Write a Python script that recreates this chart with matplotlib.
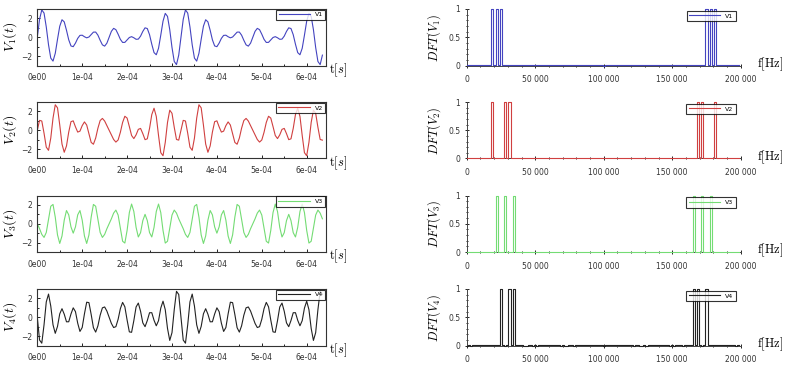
import numpy as np
import matplotlib.pyplot as plt
from matplotlib.ticker import MultipleLocator, FixedLocator, FixedFormatter

# ==================================================
# data
# ==================================================

fs = 200000      # sampling frequency [Hz] (DFT axis goes to 200 000)
n_samples = 128  # time axis ends near 6.35e-04 s

names = ["V1", "V2", "V3", "V4"]
colors = ["#4444c0", "#d04040", "#74dc74", "#222222"]

# tone frequencies seen in the DFT panels [Hz] and their signs
v1_freqs = [18750, 21875, 25000]
v1_signs = [1, 1, 1]
v2_freqs = [18750, 28125, 31250]
v2_signs = [-1, 1, 1]
v3_freqs = [21875, 28125, 34375]
v3_signs = [-1, -1, 1]
v4_freqs = [25000, 31250, 34375]
v4_signs = [-1, -1, -1]

all_freqs = [v1_freqs, v2_freqs, v3_freqs, v4_freqs]
all_signs = [v1_signs, v2_signs, v3_signs, v4_signs]

t_ticks = [0, 1e-4, 2e-4, 3e-4, 4e-4, 5e-4, 6e-4]
t_labels = ["0e00", "1e-04", "2e-04", "3e-04", "4e-04", "5e-04", "6e-04"]
f_ticks = [0, 50000, 100000, 150000, 200000]
f_labels = ["0", "50 000", "100 000", "150 000", "200 000"]

# ==================================================
# figure
# ==================================================

plt.rcParams["mathtext.fontset"] = "cm"
plt.rcParams["font.family"] = ["DejaVu Sans"]

W, H = 790, 373
fig = plt.figure(figsize=(W / 100, H / 100), dpi=100)

tops = [9, 102, 195.5, 289]
ax_h = 56.5

t = np.arange(n_samples) / fs
f = np.arange(n_samples) * fs / n_samples

for i in range(4):
    # time signal from the tones
    v = np.zeros(n_samples)
    for fr, sg in zip(all_freqs[i], all_signs[i]):
        v += sg * np.sin(2 * np.pi * fr * t)

    spec = np.abs(np.fft.fft(v))
    spec = spec / spec.max()

    bottom = 1 - (tops[i] + ax_h) / H

    # ---- left: time signal ----
    ax = fig.add_axes([37.3 / W, bottom, 288.7 / W, ax_h / H])
    ax.plot(t, v, color=colors[i], lw=0.8, label=names[i])
    ax.set_xlim(0, 6.43e-4)
    ax.set_ylim(-3, 3)
    ax.xaxis.set_major_locator(FixedLocator(t_ticks))
    ax.xaxis.set_major_formatter(FixedFormatter(t_labels))
    ax.xaxis.set_minor_locator(MultipleLocator(5e-5))
    ax.yaxis.set_major_locator(MultipleLocator(2))
    ax.yaxis.set_minor_locator(MultipleLocator(1))
    ax.tick_params(which="both", direction="in", labelsize=5.5,
                   labelcolor="#333333", width=0.6)
    ax.tick_params(axis="x", pad=5.5)
    ax.tick_params(axis="y", pad=3.5)
    ax.tick_params(which="major", length=2.5)
    ax.tick_params(which="minor", length=1.5)
    for s in ax.spines.values():
        s.set_linewidth(0.8)
        s.set_color("#333333")
    ax.set_ylabel(r"$V_%d(t)$" % (i + 1), fontsize=10, labelpad=2)
    ax.text(1.012, -0.08, r"$\mathrm{t}[s]$", transform=ax.transAxes,
            fontsize=9, ha="left", va="center")
    leg = ax.legend(loc="upper right", fontsize=4.5, frameon=True,
                    fancybox=False, edgecolor="black", handlelength=5,
                    borderaxespad=0.1, borderpad=0.4)
    leg.get_frame().set_linewidth(0.8)

    # ---- right: DFT ----
    ax2 = fig.add_axes([466.7 / W, bottom, 274 / W, ax_h / H])
    ax2.plot(f, spec, color=colors[i], lw=0.8, drawstyle="steps-mid",
             label=names[i], zorder=3, clip_on=False)
    ax2.set_xlim(0, 200000)
    ax2.set_ylim(0, 1)
    ax2.spines["top"].set_visible(False)
    ax2.spines["right"].set_visible(False)
    for s in ["left", "bottom"]:
        ax2.spines[s].set_linewidth(0.7)
        ax2.spines[s].set_color("#444444")
    ax2.xaxis.set_major_locator(FixedLocator(f_ticks))
    ax2.xaxis.set_major_formatter(FixedFormatter(f_labels))
    ax2.xaxis.set_minor_locator(MultipleLocator(10000))
    ax2.yaxis.set_major_locator(FixedLocator([0, 0.5, 1]))
    ax2.yaxis.set_major_formatter(FixedFormatter(["0", "0.5", "1"]))
    ax2.yaxis.set_minor_locator(MultipleLocator(0.1))
    ax2.tick_params(which="both", direction="inout", labelsize=5.5,
                    labelcolor="#333333", width=0.6)
    ax2.tick_params(axis="x", pad=5.5)
    ax2.tick_params(axis="y", pad=3)
    ax2.tick_params(which="major", length=3)
    ax2.tick_params(which="minor", length=2)
    ax2.set_ylabel(r"$DFT(V_%d)$" % (i + 1), fontsize=9, labelpad=4)
    ax2.text(1.06, 0.03, r"$\mathrm{f[Hz]}$", transform=ax2.transAxes,
             fontsize=9, ha="left", va="center")
    leg2 = ax2.legend(loc="upper right", fontsize=4.5, frameon=True,
                      fancybox=False, edgecolor="black", handlelength=5,
                      borderaxespad=0.1, borderpad=0.4,
                      bbox_to_anchor=(0.985, 0.98))
    leg2.get_frame().set_linewidth(0.8)

fig.savefig("out.png", dpi=100)
